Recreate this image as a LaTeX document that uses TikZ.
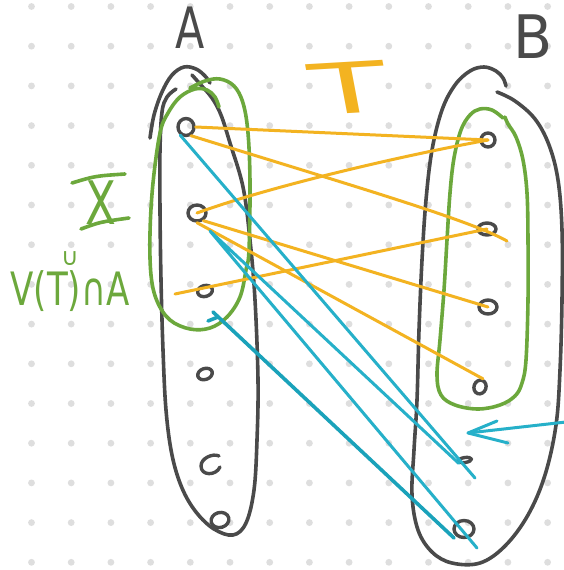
\documentclass[tikz,border=0pt]{standalone}
\usepackage{fontspec}
\setmainfont{DejaVu Sans}
\usetikzlibrary{shapes.geometric}
\definecolor{ink}{HTML}{4A4A4A}
\definecolor{grn}{HTML}{6CA83C}
\definecolor{org}{HTML}{F3B321}
\definecolor{tea}{HTML}{26B0C9}
\definecolor{teb}{HTML}{1AA2BA}
\definecolor{dotc}{HTML}{DEDEDE}
\begin{document}
\begin{tikzpicture}[x=1pt,y=-1pt,line cap=round,line join=round,
  outl/.style={draw=ink,line width=3.6pt},
  gout/.style={draw=grn,line width=3.6pt},
  vtx/.style={ellipse,draw=ink,line width=3.4pt,inner sep=0pt},
  oe/.style={draw=org,line width=3pt},
  te/.style={draw=tea,line width=3pt},
  tb/.style={draw=teb,line width=3.6pt},
  lbl/.style={inner sep=0pt}]
\useasboundingbox (0,0) rectangle (564,570);
\fill[white] (0,0) rectangle (564,570);
\foreach \i in {0,...,13}{\foreach \j in {0,...,14}{\fill[dotc] (31.5+39.7*\i,6.5+39.7*\j) circle (3.4pt);}}

% outline of A
\draw[outl] plot[smooth,tension=0.6] coordinates {(192,75) (200,84) (212,98) (221,115) (230,143) (243,187) (250,240) (255,300) (258,380) (257,440) (254,490) (246,523) (233,535) (214,529) (196,512) (182,488) (172,455) (166,410) (163,350) (161,280) (160,210) (160,150) (162,112) (167,97) (176,89)};
\draw[outl] plot[smooth,tension=0.6] coordinates {(150,138) (154,115) (162,92) (172,75) (184,67) (196,69) (205,76) (210,83)};
% outline of B
\draw[outl] plot[smooth,tension=0.6] coordinates {(497,92) (515,101) (535,119) (549,145) (558,180) (562,230) (562,300) (560,370) (556,425) (545,475) (528,515) (505,546) (480,563) (452,563) (432,552) (418,530) (412,495) (414,450) (417,400) (419,330) (422,260) (426,200) (432,150) (442,110) (455,85) (470,71) (484,67) (496,71) (503,78) (506,86)};
% green outlines
\draw[gout] plot[smooth,tension=0.6] coordinates {(190,88) (205,81) (220,79) (234,86) (243,103) (248,133) (250,183) (249,250) (246,270) (240,297) (227,317) (210,328) (190,329) (170,320) (157,301) (151,275) (150,233) (153,183) (160,133) (168,113) (180,97) (195,89) (207,90) (215,97) (219,107)};
\draw[gout] plot[smooth,tension=0.6] coordinates {(503,118) (492,110) (480,109) (470,115) (461,130) (454,158) (450,193) (447,240) (444,290) (440,340) (437,375) (441,395) (455,405) (478,409) (500,405) (515,396) (522,383) (526,360) (528,300) (528,240) (527,193) (523,160) (516,137) (508,124) (505,117)};

% vertices
\node[vtx,minimum width=16pt,minimum height=17pt] (a1) at (186,127) {};
\node[vtx,minimum width=18pt,minimum height=16pt] (a2) at (197,213) {};
\node[vtx,minimum width=15pt,minimum height=11pt,rotate=15] (a3) at (205,291) {};
\node[vtx,minimum width=15pt,minimum height=11pt,rotate=20] (a4) at (205,374) {};
\node[inner sep=0pt,minimum size=18pt] (a5) at (210,464) {};
\draw[ink,line width=3.4pt] (219,456) .. controls (213,453) and (201,458) .. (201,466) .. controls (201,476) and (216,476) .. (220,467);
\node[vtx,minimum width=18pt,minimum height=15pt,rotate=15] (a6) at (220,520) {};
\node[vtx,minimum width=14pt,minimum height=14pt] (b1) at (488,140) {};
\node[vtx,minimum width=18pt,minimum height=12pt] (b2) at (487,229) {};
\node[vtx,minimum width=18pt,minimum height=14pt] (b3) at (488,307) {};
\node[vtx,minimum width=12pt,minimum height=14pt,rotate=-20] (b4) at (480,387) {};
\node[vtx,minimum width=13pt,minimum height=5pt,rotate=8] (b5) at (465,460) {};
\node[vtx,minimum width=20pt,minimum height=17pt] (b6) at (464,529) {};

% orange edges (T)
\coordinate (o2e) at (507,241);
\coordinate (o6s) at (175,294);
\draw[oe] (a1.east) -- (b1.center);
\draw[oe] (a1.300) .. controls (350,185) and (470,220) .. (o2e);
\draw[oe] (a2.center) .. controls (260,190) and (380,160) .. (b1.center);
\draw[oe] (a2.-50) -- (b3.center);
\draw[oe] (a2.south) -- (b4.north);
\draw[oe] (o6s) -- (b2.center);

% teal edges
\coordinate (t1e) at (475,478);
\coordinate (t2s) at (210,231);
\coordinate (t3e) at (477,548);
\coordinate (t4s) at (213,312);
\coordinate (t4e) at (454,538);
\draw[te] (a1.235) -- (t1e);
\draw[te] (t3e) -- (t2s) -- (b5.200);
\draw[tb] (t4s) -- (t4e);
\draw[tb] (208,321) -- (218,317);
% arrow from the right
\coordinate (arrT) at (566,422);
\coordinate (arrH) at (468,433);
\draw[te] (arrT) -- (arrH);
\draw[te] (arrH) -- ++(29,-12) (arrH) -- ++(40,10);

% labels
\node[lbl,text=ink,font=\fontsize{57}{57}\selectfont,xscale=0.75] (labA) at (190,28) {A};
\node[lbl,text=ink,font=\fontsize{60}{60}\selectfont,xscale=0.95] (labB) at (533,37) {B};
\node[lbl,text=org,font=\fontsize{70}{70}\selectfont,xscale=1.8,rotate=6] (labT) at (349,88) {T};
\node[lbl,text=grn,font=\fontsize{60}{60}\selectfont,xscale=0.75] (labX) at (101,203) {X};
\draw[gout] (72,183) .. controls (95,176) .. (125,174);
\draw[gout] (81,229) .. controls (100,222) .. (129,218);
\node[lbl,text=grn,font=\fontsize{24}{24}\selectfont] (labU) at (70,259) {∪};
\node[lbl,text=grn,font=\fontsize{46}{46}\selectfont,xscale=0.74] (labV) at (70,291) {V(T)∩A};
\end{tikzpicture}
\end{document}
